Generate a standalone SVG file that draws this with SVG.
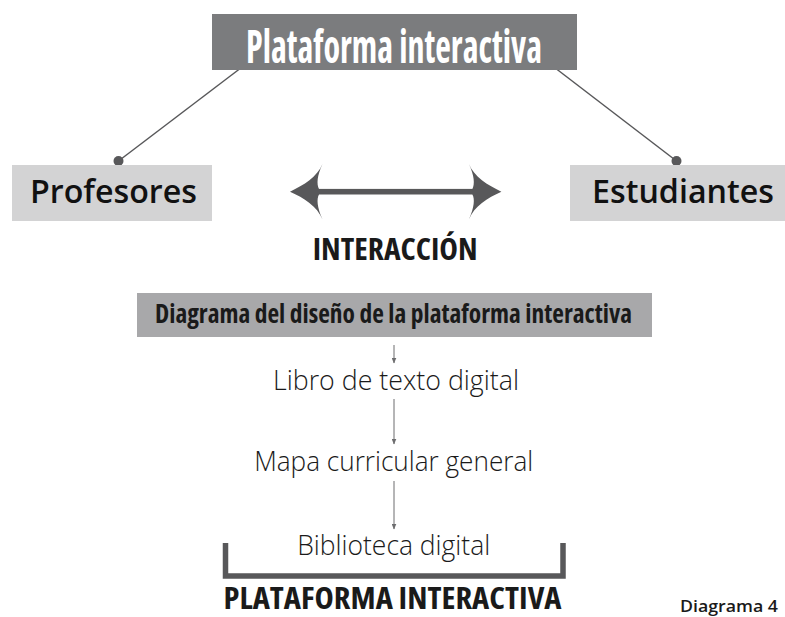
<svg xmlns="http://www.w3.org/2000/svg" width="785" height="617" viewBox="0 0 785 617">
<defs>
<style>
.bc{font-family:"Open Sans","Liberation Sans Narrow","DejaVu Sans Condensed",sans-serif;font-weight:700;font-stretch:condensed;text-anchor:middle}
.lt{font-family:"Open Sans","Noto Sans","DejaVu Sans",sans-serif;font-weight:300;font-size:28px;fill:#1a1a1a;text-anchor:middle}
.md{font-family:"Open Sans","Noto Sans","DejaVu Sans",sans-serif;font-weight:600;font-size:33px;fill:#111;text-anchor:middle}
.conn{stroke:#58585a;stroke-width:1.5;fill:none}
.flow{stroke:#6d6d6f;stroke-width:1;fill:none}
.dot{fill:#58585a}
</style>
<marker id="ah" viewBox="0 0 6 5" refX="5.5" refY="2.5" markerWidth="6" markerHeight="5" markerUnits="userSpaceOnUse" orient="auto">
<path d="M0,0 L6,2.5 L0,5 Z" fill="#6d6d6f"/>
</marker>
</defs>
<rect width="785" height="617" fill="#fff"/>

<g id="connectors">
<line class="conn" x1="239.5" y1="69" x2="118.5" y2="161"/>
<circle class="dot" cx="118.5" cy="161" r="5"/>
<line class="conn" x1="556.5" y1="69" x2="676.5" y2="161"/>
<circle class="dot" cx="676.5" cy="161" r="5"/>
<g id="double-arrow" fill="#58585a">
<rect x="317" y="188.9" width="157.4" height="5.6"/>
<path d="M290,191.7 C304,185 317,177 322.5,164 C317,176 316.5,184 319,188.9 L319,194.5 C316.5,199 317,207 322.5,219.4 C317,206 304,198 290,191.7 Z"/>
<path d="M501.4,191.7 C487.4,185 474.4,177 468.9,164 C474.4,176 474.9,184 472.4,188.9 L472.4,194.5 C474.9,199 474.4,207 468.9,219.4 C474.4,206 487.4,198 501.4,191.7 Z"/>
</g>
<line class="flow" x1="394" y1="345" x2="394" y2="363" marker-end="url(#ah)"/>
<line class="flow" x1="394" y1="399" x2="394" y2="444" marker-end="url(#ah)"/>
<line class="flow" x1="394" y1="481" x2="394" y2="529" marker-end="url(#ah)"/>
<path d="M225.5,543 V576 H563 V543" stroke="#58585a" stroke-width="5.5" fill="none"/>
</g>

<g id="plataforma">
<rect x="212" y="14" width="365" height="56" fill="#7b7c7e"/>
<text class="bc" x="394" y="62.5" font-size="47" fill="#fff" textLength="296" lengthAdjust="spacingAndGlyphs">Plataforma interactiva</text>
</g>

<g id="profesores">
<rect x="12" y="165" width="200" height="56" fill="#d3d3d4"/>
<text class="md" x="113.5" y="202.7" textLength="167" lengthAdjust="spacingAndGlyphs">Profesores</text>
</g>

<g id="estudiantes">
<rect x="570" y="165" width="215" height="56" fill="#d3d3d4"/>
<text class="md" x="683" y="202.7" textLength="182" lengthAdjust="spacingAndGlyphs">Estudiantes</text>
</g>

<g id="interaccion">
<text class="bc" x="395.2" y="260" font-size="30" fill="#1a1a1a" textLength="165" lengthAdjust="spacingAndGlyphs">INTERACCIÓN</text>
</g>

<g id="diagrama-diseno">
<rect x="137" y="293" width="515" height="44" fill="#a8a8aa"/>
<text class="bc" x="393.5" y="323.3" font-size="26" fill="#1a1a1a" textLength="477" lengthAdjust="spacingAndGlyphs">Diagrama del diseño de la plataforma interactiva</text>
</g>

<g id="libro">
<text class="lt" x="396" y="390" textLength="246" lengthAdjust="spacingAndGlyphs">Libro de texto digital</text>
</g>

<g id="mapa">
<text class="lt" x="393.7" y="471" textLength="279" lengthAdjust="spacingAndGlyphs">Mapa curricular general</text>
</g>

<g id="biblioteca">
<text class="lt" x="393.7" y="555" textLength="193" lengthAdjust="spacingAndGlyphs">Biblioteca digital</text>
</g>

<g id="plataforma-interactiva">
<text class="bc" x="392.5" y="609" font-size="30" fill="#1a1a1a" textLength="338" lengthAdjust="spacingAndGlyphs">PLATAFORMA INTERACTIVA</text>
</g>

<g id="caption">
<text x="680" y="612" font-family="Open Sans, Noto Sans, sans-serif" font-weight="600" font-size="16" fill="#1a1a1a" textLength="98" lengthAdjust="spacingAndGlyphs">Diagrama 4</text>
</g>
</svg>
